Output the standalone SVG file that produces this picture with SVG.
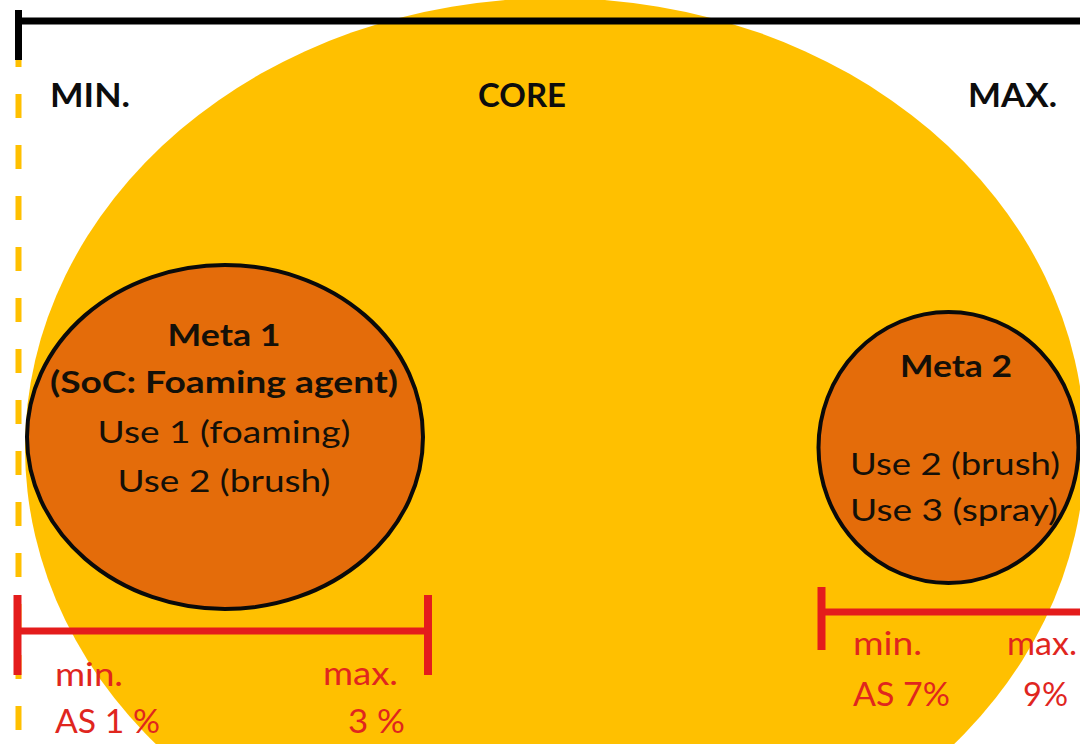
<svg xmlns="http://www.w3.org/2000/svg" width="1080" height="744" viewBox="0 0 1080 744">
  <defs>
    <style>
      .hdr { font-family: Lato, "Liberation Sans", sans-serif; font-weight: bold; font-size: 33px; fill: #0d0d0d; }
      .tb { font-family: Lato, "Liberation Sans", sans-serif; font-weight: bold; font-size: 31px; fill: #141008; text-anchor: middle; }
      .tr { font-family: Lato, "Liberation Sans", sans-serif; font-size: 31px; fill: #141008; text-anchor: middle; }
      .red { font-family: Lato, "Liberation Sans", sans-serif; font-size: 32px; fill: #E0261E; }
      .meta { fill: #E46C0A; stroke: #0a0a0a; stroke-width: 4; }
      .bar { stroke: #E41C1C; fill: none; }
    </style>
  </defs>
  <rect width="1080" height="744" fill="#ffffff"/>

  <g id="core">
    <ellipse cx="555" cy="448" rx="530" ry="450" fill="#FFC000"/>
    <text class="hdr" x="478" y="107" textLength="88" lengthAdjust="spacingAndGlyphs">CORE</text>
  </g>

  <g id="axis">
    <line x1="18.5" y1="43" x2="18.5" y2="744" stroke="#FFC000" stroke-width="6" stroke-dasharray="24 27"/>
    <line x1="15" y1="21" x2="1080" y2="21" stroke="#000" stroke-width="7"/>
    <line x1="18.5" y1="10" x2="18.5" y2="60" stroke="#000" stroke-width="7"/>
    <text class="hdr" x="50" y="107" textLength="80" lengthAdjust="spacingAndGlyphs">MIN.</text>
    <text class="hdr" x="968" y="107" textLength="89" lengthAdjust="spacingAndGlyphs">MAX.</text>
  </g>

  <g id="meta1">
    <ellipse class="meta" cx="225" cy="437" rx="198" ry="172"/>
    <text class="tb" x="224" y="346" textLength="113" lengthAdjust="spacingAndGlyphs">Meta 1</text>
    <text class="tb" x="224" y="393" textLength="348" lengthAdjust="spacingAndGlyphs">(SoC: Foaming agent)</text>
    <text class="tr" x="224" y="443" textLength="253" lengthAdjust="spacingAndGlyphs">Use 1 (foaming)</text>
    <text class="tr" x="224" y="492" textLength="213" lengthAdjust="spacingAndGlyphs">Use 2 (brush)</text>
  </g>

  <g id="meta2">
    <ellipse class="meta" cx="948.5" cy="447.5" rx="130" ry="135.5"/>
    <text class="tb" x="956" y="377" textLength="112" lengthAdjust="spacingAndGlyphs">Meta 2</text>
    <text class="tr" x="955" y="475" textLength="210" lengthAdjust="spacingAndGlyphs">Use 2 (brush)</text>
    <text class="tr" x="954" y="521" textLength="208" lengthAdjust="spacingAndGlyphs">Use 3 (spray)</text>
  </g>

  <g id="connectors">
    <g id="range1">
      <line class="bar" x1="18" y1="631" x2="428" y2="631" stroke-width="7"/>
      <line class="bar" x1="17.5" y1="595" x2="17.5" y2="675" stroke-width="8"/>
      <line class="bar" x1="428" y1="595" x2="428" y2="675" stroke-width="8"/>
    </g>
    <g id="range2">
      <line class="bar" x1="822" y1="612" x2="1080" y2="612" stroke-width="7"/>
      <line class="bar" x1="821.5" y1="587" x2="821.5" y2="650" stroke-width="8"/>
    </g>
  </g>

  <g id="labels1">
    <text class="red" x="55" y="686" textLength="68" lengthAdjust="spacingAndGlyphs">min.</text>
    <text class="red" x="55" y="733" textLength="105" lengthAdjust="spacingAndGlyphs">AS 1 %</text>
    <text class="red" x="323" y="685" textLength="75" lengthAdjust="spacingAndGlyphs">max.</text>
    <text class="red" x="348" y="733" textLength="57" lengthAdjust="spacingAndGlyphs">3 %</text>
  </g>
  <g id="labels2">
    <text class="red" x="853" y="655" textLength="69" lengthAdjust="spacingAndGlyphs">min.</text>
    <text class="red" x="853" y="706" textLength="97" lengthAdjust="spacingAndGlyphs">AS 7%</text>
    <text class="red" x="1007" y="655" textLength="70" lengthAdjust="spacingAndGlyphs">max.</text>
    <text class="red" x="1023" y="706" textLength="45" lengthAdjust="spacingAndGlyphs">9%</text>
  </g>
</svg>
